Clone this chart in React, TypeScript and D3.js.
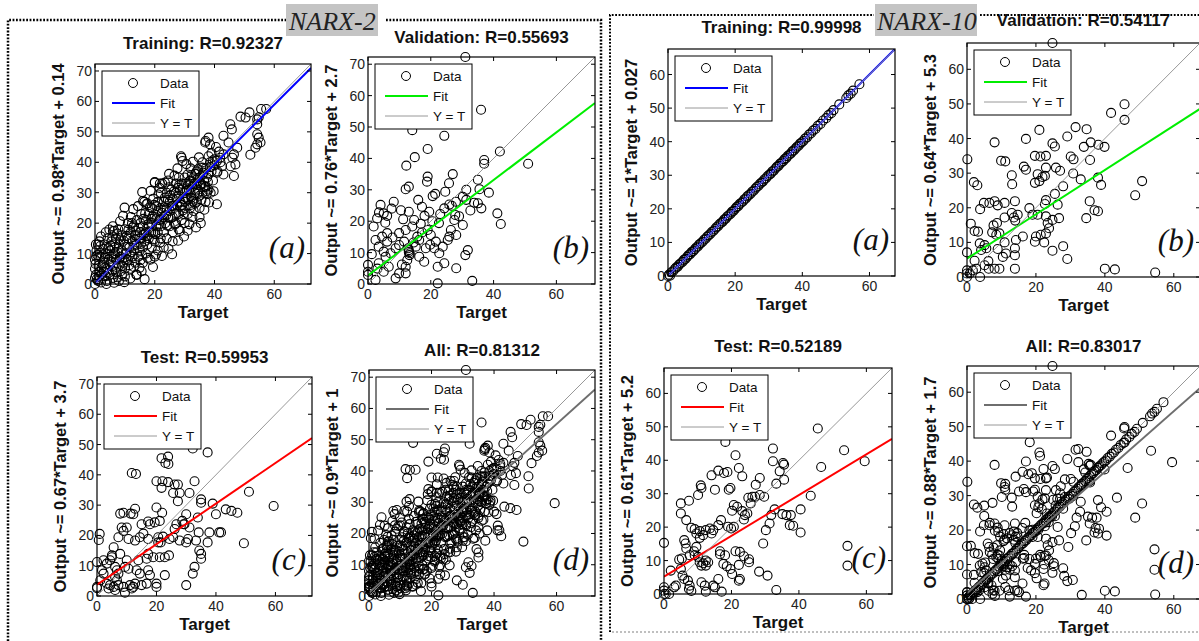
import React from "react";
import * as d3 from "d3";

type Pt = [number, number];

// ---- NARX-2 data (target, output) ----
const narx2Training: Pt[] = [
  [57.3, 57.5], [55.6, 57.5], [51.7, 56.4], [50.4, 54.7], [48.7, 55], [54.3, 54.1], [54.8, 54.8], [54.3, 52.5],
  [45.3, 52.5], [45.8, 50.8], [43, 48.7], [44.7, 46.5], [36.9, 46.5], [38, 48.1], [38.5, 45.9], [54.3, 49.2],
  [54.8, 48.1], [55.4, 46.5], [54.3, 45.9], [53.7, 44.8], [52, 42.5], [47.6, 44.8], [46.5, 42.6], [46, 41.5],
  [47, 39.3], [46.5, 35.5], [45.4, 38.7], [43, 42.6], [41.9, 41.5], [40.8, 40.4], [42.5, 38.7], [43, 36],
  [40.8, 36.6], [40.8, 26.2], [39.7, 30.5], [38.7, 30], [37.5, 30.5], [29, 41.5], [29.3, 40.4], [9.9, 25.1],
  [20, 33.3], [21.7, 33], [23.4, 33.3], [34.5, 37.7], [35.6, 38.3], [36.2, 36.6], [16.1, 27.3], [17.2, 26.2],
  [17.6, 8.6], [20.4, 9.7], [14.9, 5.3], [13.8, 3.1], [4.8, 17.9], [6, 17.4], [0.3, 13], [1.5, 14], [28.4, 17.4],
  [0, 0], [0, 2], [0, 5], [0, 8], [0.5, 11], [1, 13], [0.3, 3], [1, 1], [1.5, 4], [1.2, 6], [2, 9], [2, 0.5],
  [1.8, 12.5], [0.8, 9.5], [2.5, 2], [3, 4], [3, 7], [3.5, 10], [3.2, 13], [4, 1], [4, 5], [4.5, 8], [4.2, 15],
  [5, 3], [5, 11], [4.8, 6.5], [3.8, 0], [2.8, 11.5], [5.5, 14], [5.5, 9], [6, 2], [6, 6], [6.5, 12], [6.5, 17.5],
  [7, 4], [7, 8], [7, 15], [7.5, 10.5], [8, 1], [8, 6], [8, 13], [7.8, 18], [6, 19], [8.5, 9], [9, 3], [9, 11],
  [9, 16], [9.5, 7], [10, 13], [10, 18], [10, 5], [10.5, 10], [11, 15], [11, 8], [11, 20], [10, 2.5], [11.5, 12],
  [12, 17], [12, 5], [12.5, 9], [12.5, 14], [13, 19], [13, 11], [13.5, 7], [13.5, 16], [14, 13], [14, 21], [14, 3],
  [12, 22], [14.5, 9], [15, 17], [15, 11], [15.5, 15], [15.5, 23], [16, 12], [16, 19], [16, 7], [16.5, 14],
  [16.5, 27], [17, 17], [17, 21], [17, 10], [17.5, 26.5], [17.5, 13], [18, 19], [18, 23], [18, 15], [18.5, 8],
  [19, 20], [19, 25], [19, 12], [19.5, 17], [19.5, 28], [20, 22], [20, 14], [20, 9], [20, 33.5], [20.5, 19],
  [21, 24], [21, 17], [21, 27], [21, 11], [21.5, 21], [22, 25], [22, 30], [22, 15], [22, 19], [22.5, 33], [23, 22],
  [23, 27], [23, 17], [23, 12], [23.5, 20], [24, 25], [24, 30], [24, 15], [24.5, 22], [24.5, 34], [25, 27],
  [25, 19], [25, 24], [25.5, 31], [26, 22], [26, 28], [26, 17], [26, 14], [26.5, 25], [27, 30], [27, 20], [27, 33],
  [27.5, 26], [28, 23], [28, 29], [28, 35], [28, 18], [28.5, 31], [29, 26], [29, 33], [29, 21], [29.5, 28],
  [28.8, 42], [30, 30], [30, 25], [30, 35], [30, 20], [30.5, 33], [31, 28], [31, 23], [31, 36], [31.5, 31],
  [32, 34], [32, 26], [32, 30], [32, 38], [31, 17.5], [32.5, 32], [33, 28], [33, 35], [33, 24], [33.5, 30],
  [34, 33], [34, 37], [34, 27], [34.5, 31], [35, 35], [35, 29], [35, 25], [35, 22], [35.5, 33], [36, 36], [36, 30],
  [36, 40], [36.5, 34], [37, 38], [37, 32], [37, 27], [37.5, 35], [38, 42], [38, 36], [38, 31], [37, 47],
  [38.5, 40], [39, 37], [39, 43], [39.5, 34], [40, 39], [40, 41], [41, 37], [41.5, 43.5], [42, 40], [40.5, 45],
  [2.2, 5.5], [3.6, 2.6], [4.4, 11.8], [5.8, 4.4], [6.8, 10], [7.6, 2.2], [8.6, 14.6], [9.2, 8.4], [10.8, 12.2],
  [11.4, 6.2], [12.6, 18.6], [13.2, 12.6], [14.2, 16], [15.2, 20], [15.8, 9.6], [16.8, 23.2], [18.2, 17.2],
  [18.8, 21.4], [19.6, 14.6], [20.6, 25.6], [21.4, 19.6], [22.4, 23.4], [23.4, 28.4], [24.2, 19.2], [25.2, 29.2],
  [26.2, 25.8], [27.2, 23.2], [28.2, 32.6], [29.4, 24.2], [30.4, 28.4], [31.6, 33.8], [32.6, 27.2], [33.6, 36.2],
  [0.6, 1.6], [1.4, 2.6], [2.6, 6.4], [3.4, 8.6], [4.6, 3.6], [5.4, 7.4], [6.2, 9.8], [7.2, 5.6], [7.8, 11.6],
  [8.6, 4.2], [9.6, 14.2], [10.4, 8.2], [11.2, 17.8], [12.2, 10.4], [13.4, 14.6], [14.6, 18.4], [15.4, 13.2],
  [16.2, 21.4], [17.4, 15.8], [18.4, 25.2], [19.2, 22.2], [20.2, 16.4], [21.2, 29.4], [22.2, 21.2], [23.2, 25.2],
  [24.4, 27.6], [25.4, 21.6], [26.4, 30.4], [27.4, 28], [28.4, 25.4], [29.4, 31.4], [30.2, 27], [31.2, 32.4],
  [32.2, 28.4], [33.2, 32.8], [34.2, 29.6], [35.2, 32.6], [36.2, 38.2], [36.8, 31.8], [37.8, 33.6], [38.6, 38.4],
  [39.4, 40.6], [2, 15.6], [3.6, 17], [8.4, 20.6], [9.4, 22.4], [12.8, 24.6], [14.4, 25.6], [15.8, 30.2],
  [18.6, 30.6], [21.6, 31.6], [24.8, 36.2], [26.6, 35.6], [27.6, 38], [30.6, 39.4], [32.8, 40.2], [34.8, 41.6],
  [6.4, 0.4], [9.8, 0.6], [11.8, 1.8], [13, 5.6], [15.6, 4.2], [16.6, 1.6], [19.4, 5.6], [22.4, 9.2], [24.6, 11.6],
  [25.8, 9.8], [27.8, 14.2], [29.8, 15.6], [31.6, 19.6], [32.6, 22], [33.8, 18.6], [35.4, 20], [36.6, 24.4],
  [38.2, 26.8], [0.2, 6.6], [0.4, 9], [1.6, 10.2], [2.4, 3.2], [3.4, 5.4], [4.2, 9.8], [5.2, 12.6], [5.8, 15.6],
  [6.8, 13.4], [7.4, 16.6], [8.2, 8.2], [9.2, 6], [10.6, 15.8], [11.6, 9.6], [12.4, 20], [13.6, 17.6], [14.8, 15],
  [15.2, 7.8], [16.4, 16.4], [17.8, 19.6], [18.8, 17], [19.8, 26], [20.8, 21.6], [21.8, 13.6], [22.8, 24.4],
  [23.8, 22.6], [24.8, 31.8], [25.8, 25.6], [26.8, 19.6], [27.8, 31.6], [28.6, 27], [29.6, 23], [30.8, 30.6],
  [31.8, 25], [32.4, 35.8], [33.4, 26.4], [34.4, 34.8], [35.6, 27.6], [36.4, 32.2], [37.4, 29.6],
];

const narx2Validation: Pt[] = [
  [31, 72.3], [36, 55.5], [14.1, 49], [24.3, 47.2], [42, 42.2], [19, 43], [14.9, 40.4], [12.2, 37.7], [37, 39.5],
  [37, 38.3], [51, 38.3], [27, 35], [19, 34.2], [18.8, 32.6], [13, 31], [12, 30.2], [31.3, 30], [35.5, 30.2],
  [24.6, 29.4], [25.8, 32.1], [38.5, 29.1], [16, 26.8], [8.2, 26.2], [4, 25.2], [20.6, 28], [21.4, 28.7],
  [35, 33.2], [30.2, 27.8], [31.3, 26.8], [28, 26.2], [35, 25.7], [36.1, 24.1], [24.3, 24.1], [25.9, 25.3],
  [41.2, 22.5], [42.3, 19.1], [5, 22.5], [6.1, 21.7], [2.9, 20.9], [1.8, 18.3], [13, 23], [14.7, 20.4], [18, 21.7],
  [19.5, 23], [19, 17.2], [15.7, 15.1], [14.1, 18.3], [12, 17.2], [9.9, 16.2], [6.1, 16.2], [4.5, 15.1],
  [6.1, 13.5], [3.4, 11.9], [2.4, 14], [7.2, 9.8], [5.6, 8.7], [8.8, 11.4], [9.9, 12.4], [11.5, 13.5], [12.8, 11.4],
  [13.3, 9.8], [15.2, 11.9], [16.3, 8.7], [17.9, 7.1], [16.3, 14], [20, 15.6], [21.6, 13.5], [21.1, 11.4],
  [22.7, 9.8], [23.8, 11.9], [25.4, 14], [25.9, 15.1], [28.1, 15.6], [26.4, 17.2], [27.5, 20.4], [27.8, 22],
  [30.2, 18.8], [31.8, 10.8], [31, 9.2], [28.1, 5], [24.3, 6.6], [22.2, 5.5], [22.2, 0.2], [33.2, 1], [8.8, 1.8],
  [9.9, 3.4], [12, 3.4], [5, 3.9], [2.4, 1.3], [0, 6.1], [0, 3.9], [0, 2.9], [6.6, 5.5], [3.4, 6.6], [12, 5.5],
  [12.5, 7.6], [13, 10.2], [13, 10.8], [13.2, 9.2], [5, 10.3], [18.4, 11.4], [19.8, 12.5], [3.5, 22.8],
  [5.5, 19.5], [7.5, 24], [10.5, 23.5], [11.2, 20.6], [16.8, 19.2], [17.2, 24.6], [20.5, 20], [22.6, 19.4],
  [23, 22.3], [26.7, 24.9], [29, 21.6], [32.6, 23.4], [33.8, 25.9], [10.8, 6.2], [14.5, 13.2], [17.2, 16.4],
  [1.2, 9.5], [3, 4.9], [7.8, 14.8],
];

const narx2Test: Pt[] = [
  [37.2, 47.4], [32.2, 48.7], [21.7, 45.5], [23.9, 46], [23, 43.9], [24, 43.6], [11.7, 40.6], [13.1, 40.3],
  [20, 37.9], [22, 37.9], [21.7, 35.7], [23.9, 37.6], [26.1, 36.8], [27.2, 36.8], [25.6, 34], [27.8, 34], [31.1, 34],
  [32.8, 37.9], [27.2, 31.3], [35, 30.8], [35, 31.9], [38.9, 30.5], [43.3, 28.6], [45.2, 28.1], [47.2, 27.5],
  [40, 27], [51.1, 34.4], [59.4, 29.7], [49.4, 17.4], [33.9, 25.9], [30, 27], [28.7, 24.8], [29.1, 23.7], [20, 29.2],
  [21.9, 27.5], [21.1, 24.8], [19.4, 24.3], [15, 23.7], [17.8, 23.7], [12.2, 27], [12.8, 28.8], [11.3, 27.2],
  [7.8, 27.2], [8.9, 27.5], [8.3, 22.6], [8.9, 21.5], [0.9, 20.5], [0.6, 18.5], [5.6, 16.1], [5, 13.4], [7.2, 19.4],
  [10.6, 18.8], [12.8, 18.3], [14.4, 19.4], [17.2, 18.8], [17.2, 13.9], [16.7, 12.3], [18.9, 12.8], [21.1, 12.8],
  [22.8, 12.8], [24.2, 13.4], [20.6, 19.4], [22.2, 19.6], [20.6, 17.7], [21.4, 17.7], [24.4, 18.8], [25.6, 19.4],
  [27.8, 18.3], [30, 17.7], [30.6, 18.8], [33.3, 18.3], [34.4, 15], [35, 13.9], [35, 12.3], [32.8, 9.6], [32.2, 7.4],
  [30, 3.6], [37.2, 17.7], [37.8, 21], [41.1, 21], [41.7, 21], [26.1, 22.1], [26.7, 23.7], [29.4, 23.7], [31.1, 22.6],
  [34.2, 21], [22.8, 6.9], [20, 4.1], [20, 3], [16.7, 4.1], [15, 3.6], [12.8, 4.1], [12.2, 3], [13.9, 11.8],
  [13.3, 8.5], [14.4, 7.4], [17.2, 8.5], [17.8, 6.9], [10, 11.8], [10.6, 9], [9.4, 9.6], [6.1, 9.6], [6.7, 8.5],
  [7.2, 7.4], [6.1, 6.3], [6.7, 5.2], [7.2, 3.6], [8.9, 3], [9.4, 1.1], [11.1, 3.6], [11.7, 2.5], [3.9, 2.5],
  [4.4, 3.6], [5.6, 3], [6.1, 2], [3.3, 4.1], [0, 3], [0, 2.6], [1.1, 5.2], [2.2, 7.4], [1.7, 8.5], [3.3, 10.7],
  [4.4, 11.8], [0, 11.2], [2.2, 11.8], [5, 12.8], [7.8, 13.9], [10, 22.6], [15.6, 20.6], [17.2, 24.6],
];

// ---- NARX-10 data (target, output) ----
const narx10Training: Pt[] = [
  [0, 0], [0.6, 0.1], [0.3, 0.4], [1.0, 1.1], [1.5, 1.4], [2.0, 2.1], [2.4, 2.5], [2.9, 2.8], [3.3, 3.4], [3.8, 3.8],
  [4.3, 4.2], [4.7, 4.8], [5.2, 5.1], [5.7, 5.7], [6.1, 6.2], [6.6, 6.5], [7.0, 7.1], [7.5, 7.4], [8.0, 8.0],
  [8.4, 8.5], [8.9, 8.8], [9.3, 9.4], [9.8, 9.8], [10.3, 10.2], [10.7, 10.8], [11.2, 11.1], [11.6, 11.7],
  [12.1, 12.1], [12.6, 12.5], [13.0, 13.1], [13.5, 13.4], [14.0, 14.0], [14.4, 14.5], [14.9, 14.8], [15.3, 15.4],
  [15.8, 15.8], [16.3, 16.2], [16.7, 16.8], [17.2, 17.1], [17.6, 17.7], [18.1, 18.1], [18.6, 18.5], [19.0, 19.1],
  [19.5, 19.4], [20.0, 20.0], [20.4, 20.5], [20.9, 20.8], [21.3, 21.4], [21.8, 21.8], [22.3, 22.2], [22.7, 22.8],
  [23.2, 23.1], [23.6, 23.7], [24.1, 24.1], [24.6, 24.5], [25.0, 25.1], [25.5, 25.4], [26.0, 26.0], [26.4, 26.5],
  [26.9, 26.8], [27.3, 27.4], [27.8, 27.8], [28.3, 28.2], [28.7, 28.8], [29.2, 29.1], [29.6, 29.7], [30.1, 30.1],
  [30.6, 30.5], [31.0, 31.1], [31.5, 31.4], [32.0, 32.0], [32.4, 32.5], [32.9, 32.8], [33.3, 33.4], [33.8, 33.8],
  [34.3, 34.2], [34.7, 34.8], [35.2, 35.1], [35.6, 35.7], [36.1, 36.1], [36.6, 36.5], [37.0, 37.1], [37.5, 37.4],
  [38.0, 38.0], [38.4, 38.5], [38.9, 38.8], [39.3, 39.4], [39.8, 39.8], [40.3, 40.2], [40.8, 40.9], [41.4, 41.3],
  [42.0, 42.1], [42.6, 42.5], [43.2, 43.3], [43.9, 43.8], [44.6, 44.7], [45.4, 45.3], [46.2, 46.3], [47.1, 47.0],
  [47.8, 47.9], [48.6, 48.5], [49.3, 49.4], [51.0, 51.1], [53.1, 53.0], [53.7, 53.8], [54.4, 54.3], [55.1, 55.2],
  [57.0, 57.1],
];

const narx10Validation: Pt[] = [
  [24.8, 67.6], [45.7, 49.9], [45.7, 45.4], [41.8, 47.4], [31.5, 43.3], [34.7, 42.7], [21, 42.5], [17.1, 39.9],
  [8, 38.9], [24.8, 38.6], [25.5, 37.7], [29.1, 40.6], [33.9, 37.6], [35.9, 38.9], [38.1, 38.2], [39.9, 37.6],
  [35.7, 33.8], [30.1, 34.8], [30.9, 34], [19.7, 35], [21.3, 34.8], [22.9, 35], [9.9, 33.6], [11.1, 33.4],
  [16.5, 31.9], [17.1, 31], [25.8, 31.6], [27, 30.7], [30.8, 29.9], [22.9, 31.6], [20.5, 29.7], [21.9, 28.9],
  [22.6, 29.2], [21, 27.7], [19.7, 27.2], [13, 29.4], [13.1, 26.8], [2, 27.4], [3, 26.5], [0.1, 34], [33, 28.2],
  [38, 28.7], [38.9, 26.6], [48.8, 23.6], [50.8, 27.7], [27.9, 26.2], [25.5, 24], [22.9, 22.2], [22.6, 21.1],
  [35.6, 21.9], [37, 19.3], [38, 19], [34.6, 17], [4.9, 21.4], [6.5, 21.4], [8, 21.9], [8.9, 20.7], [3.8, 19.6],
  [1.1, 15.4], [2.2, 13.3], [3.2, 13.1], [7.7, 14.9], [8.7, 15.6], [7.3, 12.9], [8.5, 12.2], [9.4, 12.6],
  [10.9, 17.2], [13, 18.5], [13.6, 17.2], [14, 16.3], [14.7, 18], [13.9, 21.9], [10.9, 21.4], [18.1, 19.9], [19, 18],
  [20.5, 18], [22.9, 17.5], [23.4, 15.6], [24.8, 16.5], [23.8, 14.1], [22.9, 12.6], [21.4, 12.2], [20, 11.7],
  [19.7, 10.2], [22.4, 10], [24.8, 7.6], [27.9, 8.9], [29.1, 5.2], [26.3, 20.9], [26.7, 17], [16.2, 11.7],
  [14.2, 10.7], [10.9, 10], [11.3, 6.8], [13.9, 8.3], [13.9, 6.3], [13.9, 2.4], [8.9, 8.1], [10.4, 5.8], [9.4, 2.4],
  [8, 2.4], [5.1, 9.2], [5.6, 8.3], [4.1, 7.8], [3.7, 9.7], [6.2, 4.6], [5.1, 3.4], [6.3, 2.4], [2.2, 4.7],
  [2.7, 2.4], [1.7, 1.9], [0, 7.1], [0, 1.9], [0, 1], [0, 0], [0.8, 1], [3.8, 0], [40, 2.4], [42.9, 2.2], [54.6, 1.3],
];

const narx10Test: Pt[] = [
  [45.6, 49.5], [53.4, 43], [59.5, 39.7], [46.6, 38], [18.2, 45.5], [21.2, 41.5], [32.3, 43.5], [32.3, 39.7],
  [35.3, 39.2], [35.6, 38.7], [34.3, 36.7], [35.6, 34.2], [33.3, 33], [22.2, 37.7], [23.2, 35.2], [16.1, 36.9],
  [17.8, 36.2], [18.8, 36.5], [14.1, 35.5], [15.1, 31.2], [10.9, 32.5], [11.1, 31.7], [27.2, 32.7], [28.4, 34.7],
  [27, 29.1], [28.4, 29.6], [29.7, 29.1], [25, 28.8], [26.2, 29.1], [25.7, 27.1], [19.7, 31.7], [19.2, 31.2],
  [20.7, 26.6], [21.7, 26.1], [23.2, 24.8], [24, 23.6], [24.7, 24.1], [23.7, 22.3], [20.2, 24.9], [5, 27.1],
  [7.4, 27.9], [10.1, 29.6], [32.8, 25.3], [31.8, 23.6], [31.3, 21.1], [30.2, 19.1], [29.4, 15.1], [36.3, 23.6],
  [37.6, 23.6], [37.3, 20.6], [38.3, 20.4], [40.5, 25.3], [40.5, 18.4], [43.5, 29.4], [35.1, 23.9], [54.4, 14.4],
  [54.4, 8.5], [33.3, 1.2], [5, 24.1], [6.6, 22.1], [8.1, 19.8], [9.1, 19.4], [10.6, 18.8], [9.6, 18.1],
  [10.6, 16.8], [11.6, 17.6], [12.4, 19.1], [13.6, 19.6], [14.6, 19.1], [14.1, 18.1], [16.1, 20.6], [16.9, 22.1],
  [19, 20.1], [19.9, 19.6], [20.7, 20.1], [16.6, 12.8], [18.1, 11.6], [16.6, 11.9], [21.2, 12.8], [22.5, 12.6],
  [23.7, 11.3], [25.2, 10.4], [25.2, 9.5], [22.2, 8.7], [22.2, 4], [22.5, 4.5], [19.7, 7.5], [20.2, 6], [18.6, 8.3],
  [17.6, 9], [16.1, 4.5], [17.1, 0.7], [14.6, 2.5], [15.1, 2], [12.1, 2.5], [12.4, 0.7], [11.1, 3.5], [10.6, 9.5],
  [11.6, 9.2], [12.4, 10], [13.1, 9.5], [11.1, 8.5], [12.4, 8.5], [8.9, 12.8], [9.6, 14.1], [9.1, 11.6],
  [10.1, 11.1], [5.3, 10.6], [4.5, 10.3], [6, 16.1], [6.4, 15.1], [6.6, 13.6], [7.6, 11.6], [5, 7.5], [5.5, 5.5],
  [6, 4.5], [7.1, 4], [7.6, 2.5], [7.4, 1.5], [8.1, 0.9], [3.5, 2.5], [2, 7], [3, 2], [0, 0], [0, 1], [0, 2],
  [0, 15.3], [0.5, 0], [1.5, 0], [28.2, 6.7], [30.7, 5.5],
];

const narx2All: Pt[] = [...narx2Training, ...narx2Validation, ...narx2Test];
const narx10All: Pt[] = [...narx10Training, ...narx10Validation, ...narx10Test];

const titles = [
  "Training: R=0.92327", "Validation: R=0.55693", "Test: R=0.59953", "All: R=0.81312",
  "Training: R=0.99998", "Validation: R=0.54117", "Test: R=0.52189", "All: R=0.83017",
];
const fitSlopes = [0.98, 0.76, 0.67, 0.9, 1, 0.64, 0.61, 0.88];
const fitIntercepts = [0.14, 2.7, 3.7, 1, 0.027, 5.3, 5.2, 1.7];
const yLabels = [
  "Output ~= 0.98*Target + 0.14", "Output ~= 0.76*Target + 2.7", "Output ~= 0.67*Target + 3.7",
  "Output ~= 0.9*Target + 1", "Output ~= 1*Target + 0.027", "Output ~= 0.64*Target + 5.3",
  "Output ~= 0.61*Target + 5.2", "Output ~= 0.88*Target + 1.7",
];
const letters = ["(a)", "(b)", "(c)", "(d)", "(a)", "(b)", "(c)", "(d)"];
const xTicks = [0, 20, 40, 60];
const yTicks2 = [0, 10, 20, 30, 40, 50, 60, 70];
const yTicks10 = [0, 10, 20, 30, 40, 50, 60];
const domainMax2 = 72.3;
const domainMax10 = 67.6;

const SANS = "'Liberation Sans', Arial, Helvetica, sans-serif";
const SERIF = "'Liberation Serif', 'Times New Roman', serif";
const fitColors = ["#0000ff", "#00ee00", "#ff0000", "#6e6e6e"];

type Box = { x0: number; y0: number; x1: number; y1: number; ty: number };
const boxes: Box[] = [
  { x0: 95, y0: 64, x1: 311, y1: 284, ty: 49 },
  { x0: 368, y0: 57, x1: 595, y1: 284, ty: 43 },
  { x0: 97, y0: 377, x1: 312, y1: 596, ty: 363 },
  { x0: 369, y0: 370, x1: 595, y1: 596, ty: 356 },
  { x0: 668, y0: 49, x1: 895, y1: 276, ty: 33 },
  { x0: 967, y0: 43, x1: 1200, y1: 277, ty: 26 },
  { x0: 664, y0: 368, x1: 892, y1: 594, ty: 352 },
  { x0: 967, y0: 366, x1: 1200, y1: 599, ty: 352 },
];
const datasets = [narx2Training, narx2Validation, narx2Test, narx2All, narx10Training, narx10Validation, narx10Test, narx10All];

function Panel({ i }: { i: number }) {
  const b = boxes[i];
  const max = i < 4 ? domainMax2 : domainMax10;
  const yTicks = i < 4 ? yTicks2 : yTicks10;
  const x = d3.scaleLinear().domain([0, max]).range([b.x0, b.x1]);
  const y = d3.scaleLinear().domain([0, max]).range([b.y1, b.y0]);
  const line = d3.line<Pt>().x((d) => x(d[0])).y((d) => y(d[1]));
  const a = fitSlopes[i], c = fitIntercepts[i];
  const fit: Pt[] = [[0, c], [max, a * max + c]];
  const ident: Pt[] = [[0, 0], [max, max]];
  const color = fitColors[i % 4];
  const cx = (b.x0 + b.x1) / 2, cy = (b.y0 + b.y1) / 2;
  const lx = b.x0 + 7, ly = b.y0 + 7;
  const clipId = `clip${i}`;
  return (
    <g>
      <defs>
        <clipPath id={clipId}>
          <rect x={b.x0} y={b.y0} width={b.x1 - b.x0} height={b.y1 - b.y0} />
        </clipPath>
      </defs>
      <rect x={b.x0} y={b.y0} width={b.x1 - b.x0} height={b.y1 - b.y0} fill="#fff" />
      <g fill="none" stroke="#000" strokeWidth={1.1}>
        {datasets[i].map((d, k) => (
          <circle key={k} cx={x(d[0])} cy={y(d[1])} r={4.5} />
        ))}
      </g>
      <g clipPath={`url(#${clipId})`} fill="none">
        <path d={line(fit) || ""} stroke={color} strokeWidth={2} />
        <path d={line(ident) || ""} stroke="#8c8c8c" strokeWidth={0.9} />
      </g>
      <rect x={b.x0} y={b.y0} width={b.x1 - b.x0} height={b.y1 - b.y0} fill="none" stroke="#000" strokeWidth={1.2} />
      <g stroke="#000" strokeWidth={1}>
        {xTicks.map((t) => (
          <g key={t}>
            <line x1={x(t)} x2={x(t)} y1={b.y1} y2={b.y1 - 4} />
            <line x1={x(t)} x2={x(t)} y1={b.y0} y2={b.y0 + 4} />
          </g>
        ))}
        {yTicks.map((t) => (
          <g key={t}>
            <line x1={b.x0} x2={b.x0 + 4} y1={y(t)} y2={y(t)} />
            <line x1={b.x1} x2={b.x1 - 4} y1={y(t)} y2={y(t)} />
          </g>
        ))}
      </g>
      <g fontFamily={SANS} fontSize={14} fill="#222">
        {xTicks.map((t) => (
          <text key={t} x={x(t)} y={b.y1 + 15} textAnchor="middle">{t}</text>
        ))}
        {yTicks.map((t) => (
          <text key={t} x={b.x0 - 3} y={y(t) + 5} textAnchor="end">{t}</text>
        ))}
      </g>
      <text x={cx} y={b.ty} textAnchor="middle" fontFamily={SANS} fontWeight="bold" fontSize={17} fill="#111">
        {titles[i]}
      </text>
      <text x={cx} y={b.y1 + 34} textAnchor="middle" fontFamily={SANS} fontWeight="bold" fontSize={17} fill="#111">
        Target
      </text>
      <text transform={`translate(${b.x0 - 31},${cy}) rotate(-90)`} textAnchor="middle" fontFamily={SANS}
        fontWeight="bold" fontSize={16.5} fill="#111">
        {yLabels[i]}
      </text>
      <text x={b.x1 - 6} y={b.y1 - 26} textAnchor="end" fontFamily={SERIF} fontStyle="italic" fontSize={31} fill="#111">
        {letters[i]}
      </text>
      <g>
        <rect x={lx} y={ly} width={97} height={65} fill="#fff" stroke="#000" strokeWidth={1} />
        <circle cx={lx + 31} cy={ly + 12} r={4.5} fill="none" stroke="#000" />
        <line x1={lx + 10} x2={lx + 53} y1={ly + 32} y2={ly + 32} stroke={color} strokeWidth={2} />
        <line x1={lx + 10} x2={lx + 53} y1={ly + 52} y2={ly + 52} stroke="#8c8c8c" strokeWidth={0.9} />
        <g fontFamily={SANS} fontSize={13.5} fill="#111">
          <text x={lx + 58} y={ly + 17}>Data</text>
          <text x={lx + 58} y={ly + 37}>Fit</text>
          <text x={lx + 58} y={ly + 57}>Y = T</text>
        </g>
      </g>
    </g>
  );
}

export default function App() {
  const dots = { stroke: "#000", strokeWidth: 2.5, strokeDasharray: "1.8 1.6", fill: "none" };
  return (
    <svg width={1199} height={641} viewBox="0 0 1199 641"
      style={{ position: "absolute", left: 0, top: 0, background: "#fff" }}>
      <rect x={0} y={0} width={1199} height={641} fill="#fff" />
      {boxes.map((_, i) => <Panel key={i} i={i} />)}
      {/* top of the NARX-10 validation title is cut by the frame */}
      <rect x={980} y={0} width={219} height={14} fill="#fff" />
      <path d="M8 641 V20 H286 M386 20 H601 V641" {...dots} />
      <path d="M610 632 V15 H874 M980 15 H1199" {...dots} strokeWidth={2} />
      <path d="M612 632 H1199" stroke="#aaa" strokeWidth={1.5} strokeDasharray="2 2" fill="none" />
      <rect x={286} y={4} width={92} height={32} fill="#c4c4c4" />
      <text x={289} y={30} fontFamily={SERIF} fontStyle="italic" fontSize={26} fill="#222">NARX-2</text>
      <rect x={875} y={4} width={102} height={32} fill="#c4c4c4" />
      <text x={877} y={30} fontFamily={SERIF} fontStyle="italic" fontSize={26} fill="#222">NARX-10</text>
    </svg>
  );
}
